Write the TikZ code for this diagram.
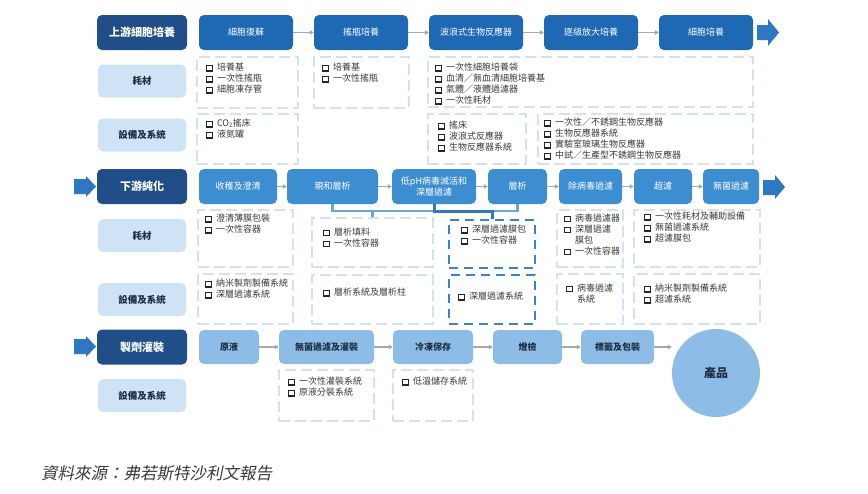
\documentclass[tikz,border=0pt]{standalone}
\usepackage{fontspec}
\setmainfont{Noto Sans CJK TC}
\newfontfamily\cjkit{Noto Sans CJK TC}[FakeSlant=0.2]
\usetikzlibrary{arrows.meta,fit}
\definecolor{navy}{HTML}{1F4E88}
\definecolor{upb}{HTML}{1F69B4}
\definecolor{dnb}{HTML}{3D8ED0}
\definecolor{ltb}{HTML}{8DBDE7}
\definecolor{lbl}{HTML}{CFE3F6}
\definecolor{dashc}{HTML}{D3E2F2}
\definecolor{dashd}{HTML}{3A85C7}
\definecolor{arr}{HTML}{A3A9B0}
\definecolor{big}{HTML}{2D78C1}
\definecolor{txt}{HTML}{3A3A3A}
\definecolor{lbltxt}{HTML}{1E2F45}
\definecolor{brl}{HTML}{6AA6DC}
\definecolor{brd}{HTML}{2F79BF}
\newcommand\cb{{\setlength\fboxsep{0pt}\setlength\fboxrule{1.2pt}\color{black!85}\fbox{\rule{0pt}{4.4pt}\hspace{4.4pt}}}\hspace{4pt}}
\tikzset{
  base/.style={rounded corners=5pt, inner sep=0pt, align=center},
  navybox/.style={base, fill=navy, text=white, minimum width=90pt, minimum height=35pt, font=\fontsize{11}{13}\selectfont\bfseries},
  lblbox/.style={base, fill=lbl, text=lbltxt, minimum width=88pt, minimum height=33pt, font=\fontsize{9.5}{11}\selectfont\bfseries},
  upbox/.style={base, fill=upb, text=white, minimum height=35pt, font=\fontsize{9}{11}\selectfont},
  dnbox/.style={base, fill=dnb, text=white, minimum height=35pt, font=\fontsize{9}{11}\selectfont},
  ltbox/.style={base, fill=ltb, text=lbltxt, minimum height=34pt, font=\fontsize{9}{11}\selectfont\bfseries},
  listtxt/.style={anchor=north west, inner sep=0pt, align=left, text=txt, font=\fontsize{9}{11}\selectfont},
  dbox/.style={draw=dashc, line width=2pt, dash pattern=on 11pt off 5pt, inner sep=0pt},
  dboxd/.style={draw=dashd, line width=2.5pt, dash pattern=on 9pt off 6pt, inner sep=0pt},
  flow/.style={draw=arr, line width=1.4pt, -{Triangle[length=4pt,width=4.5pt]}},
  brlight/.style={draw=brl, line width=2.6pt},
  brdark/.style={draw=brd, line width=3pt},
}
\begin{document}
\begin{tikzpicture}[x=1pt,y=-1pt]
\useasboundingbox[fill=white] (0,0) rectangle (868,493);

% ---------------- Row 1: upstream ----------------
\node[navybox] (L1) at (142,32.5) {上游細胞培養};
\node[upbox, minimum width=94pt] (u1) at (246,32.5) {細胞復蘇};
\node[upbox, minimum width=94pt] (u2) at (361,32.5) {搖瓶培養};
\node[upbox, minimum width=94pt] (u3) at (476,32.5) {波浪式生物反應器};
\node[upbox, minimum width=94pt] (u4) at (591,32.5) {逐級放大培養};
\node[upbox, minimum width=94pt] (u5) at (706,32.5) {細胞培養};
\draw[flow] (u1) -- (u2);
\draw[flow] (u2) -- (u3);
\draw[flow] (u3) -- (u4);
\draw[flow] (u4) -- (u5);
\fill[big] (757,25) -- (768,25) -- (768,19) -- (779,32.5) -- (768,46) -- (768,40) -- (757,40) -- cycle;

\node[lblbox] (M1) at (142,81) {耗材};
\node[lblbox] (E1) at (142,135) {設備及系統};

\node[dbox, fit={(197,57) (298,108)}] (m1) {};
\node[dbox, fit={(314,57) (409,108)}] (m2) {};
\node[dbox, fit={(428,57) (753,107)}] (m3) {};
\node[listtxt] (m1t) at (206,62.5) {\cb 培養基\\\cb 一次性搖瓶\\\cb 細胞凍存管};
\node[listtxt] (m2t) at (322,62.5) {\cb 培養基\\\cb 一次性搖瓶};
\node[listtxt] (m3t) at (435,62.5) {\cb 一次性細胞培養袋\\\cb 血清／無血清細胞培養基\\\cb 氣體／液體過濾器\\\cb 一次性耗材};

\node[dbox, fit={(197,114) (298,164)}] (e1) {};
\node[dbox, fit={(428,114) (526,164)}] (e3) {};
\node[dbox, fit={(538,114) (753,164)}] (e4) {};
\node[listtxt] (e1t) at (206,118.5) {\cb CO\textsubscript{2}搖床\\\cb 液氮罐};
\node[listtxt] (e3t) at (438,120.5) {\cb 搖床\\\cb 波浪式反應器\\\cb 生物反應器系統};
\node[listtxt] (e4t) at (544,117.5) {\cb 一次性／不銹鋼生物反應器\\\cb 生物反應器系統\\\cb 實驗室玻璃生物反應器\\\cb 中試／生產型不銹鋼生物反應器};

% ---------------- Row 2: downstream ----------------
\fill[big] (74,179) -- (86,179) -- (86,176) -- (96,186.5) -- (86,197) -- (86,194) -- (74,194) -- cycle;
\node[navybox] (L2) at (142,186.5) {下游純化};
\node[dnbox, minimum width=78pt] (d1) at (238,186.5) {收穫及澄清};
\node[dnbox, minimum width=91pt] (d2) at (332.5,186.5) {親和層析};
\node[dnbox, minimum width=84pt] (d3) at (434,186.5) {低pH病毒滅活和\\深層過濾};
\node[dnbox, minimum width=59pt] (d4) at (517.5,186.5) {層析};
\node[dnbox, minimum width=63pt] (d5) at (590.5,186.5) {除病毒過濾};
\node[dnbox, minimum width=58pt] (d6) at (663,186.5) {超濾};
\node[dnbox, minimum width=56pt] (d7) at (731,186.5) {無菌過濾};
\draw[flow] (d1) -- (d2);
\draw[flow] (d2) -- (d3);
\draw[flow] (d3) -- (d4);
\draw[flow] (d4) -- (d5);
\draw[flow] (d5) -- (d6);
\draw[flow] (d6) -- (d7);
\fill[big] (763,180) -- (775,180) -- (775,175) -- (785,187) -- (775,199) -- (775,195) -- (763,195) -- cycle;

\node[lblbox] (M2) at (142,235.5) {耗材};
\node[lblbox] (E2) at (142,299.5) {設備及系統};

\node[dbox, fit={(198,210) (293,267)}] (p1) {};
\node[dbox, fit={(312,218) (433,267)}] (p2) {};
\node[dboxd, fit={(449,220) (535,268)}] (p3) {};
\node[dbox, fit={(557,210) (623,267)}] (p4) {};
\node[dbox, fit={(634,210) (760,267)}] (p5) {};
\node[listtxt] (p1t) at (205,213.5) {\cb 澄清薄膜包裝\\\cb 一次性容器};
\node[listtxt] (p2t) at (323,227.5) {\cb 層析填料\\\cb 一次性容器};
\node[listtxt] (p3t) at (461,224.5) {\cb 深層過濾膜包\\\cb 一次性容器};
\node[listtxt] (p4t) at (564,213.5) {\cb 病毒過濾器\\\cb 深層過濾\\\phantom{\cb}膜包\\\cb 一次性容器};
\node[listtxt] (p5t) at (644,211.5) {\cb 一次性耗材及輔助設備\\\cb 無菌過濾系統\\\cb 超濾膜包};

\node[dbox, fit={(198,274) (293,324)}] (q1) {};
\node[dbox, fit={(312,275) (433,324)}] (q2) {};
\node[dboxd, fit={(449,275) (535,324)}] (q3) {};
\node[dbox, fit={(557,274) (623,324)}] (q4) {};
\node[dbox, fit={(634,274) (760,324)}] (q5) {};
\node[listtxt] (q1t) at (205,278.5) {\cb 納米製劑製備系統\\\cb 深層過濾系統};
\node[listtxt] (q2t) at (323,287.5) {\cb 層析系統及層析柱};
\node[listtxt] (q3t) at (458,291.5) {\cb 深層過濾系統};
\node[listtxt] (q4t) at (566,283.5) {\cb 病毒過濾\\\phantom{\cb}系統};
\node[listtxt] (q5t) at (644,283.5) {\cb 納米製劑製備系統\\\cb 超濾系統};

% brackets
\coordinate (jy) at (0,211);
\draw[brlight] (d2.south) |- (d3.south |- jy);
\draw[brlight] (p2.north |- jy) -- (p2.north);
\draw[brlight] (d4.south) |- (p3.north |- jy);
\draw[brdark] (d3.south) |- (p3.north |- jy) -- (p3.north);

% ---------------- Row 3: fill & finish ----------------
\fill[big] (74,339) -- (86,339) -- (86,336) -- (96,346.5) -- (86,357) -- (86,354) -- (74,354) -- cycle;
\node[navybox] (L3) at (142,347) {製劑灌裝};
\node[ltbox, minimum width=60pt] (f1) at (229,347) {原液};
\node[ltbox, minimum width=95pt] (f2) at (326.5,347) {無菌過濾及灌裝};
\node[ltbox, minimum width=80pt] (f3) at (433,347) {冷凍保存};
\node[ltbox, minimum width=69pt] (f4) at (527.5,347) {燈檢};
\node[ltbox, minimum width=73pt] (f5) at (617.5,347) {標籤及包裝};
\node[circle, fill=ltb, minimum size=88pt, inner sep=0pt, text=lbltxt, font=\fontsize{12}{14}\selectfont\bfseries] (prod) at (716,373) {產品};
\coordinate (prodin) at (672,347);
\draw[flow] (f1) -- (f2);
\draw[flow] (f2) -- (f3);
\draw[flow] (f3) -- (f4);
\draw[flow] (f4) -- (f5);
\draw[flow] (f5) -- (prodin);

\node[lblbox] (E3) at (142,395.5) {設備及系統};
\node[dbox, fit={(279,370) (374,421)}] (g2) {};
\node[dbox, fit={(393,370) (473,421)}] (g3) {};
\node[listtxt] (g2t) at (288,376.5) {\cb 一次性灌裝系統\\\cb 原液分裝系統};
\node[listtxt] (g3t) at (402,376.5) {\cb 低溫儲存系統};

% source
\node[anchor=west, inner sep=0pt, text=txt, font=\cjkit\fontsize{16.5}{18}\selectfont] (src) at (41,473) {資料來源：弗若斯特沙利文報告};
\end{tikzpicture}
\end{document}
